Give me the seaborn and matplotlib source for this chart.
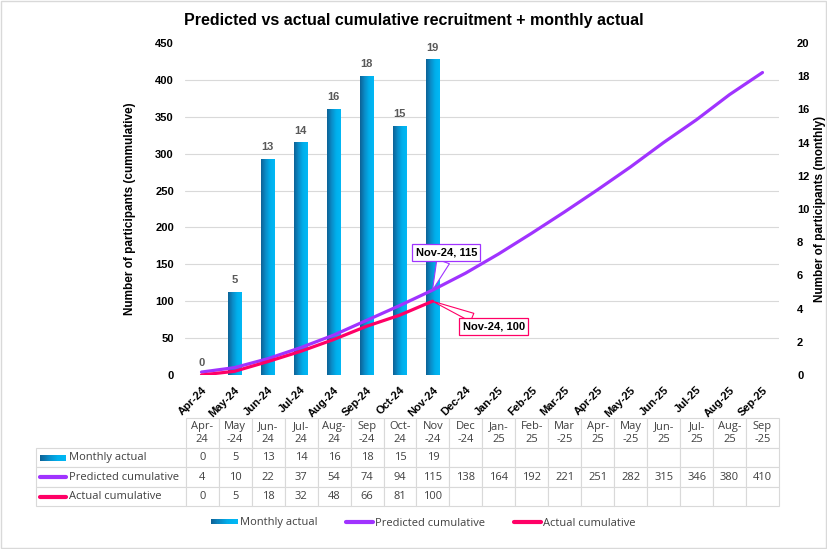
import numpy as np
import pandas as pd
import matplotlib
matplotlib.use('Agg')
import matplotlib.pyplot as plt
import seaborn as sns
from matplotlib.colors import LinearSegmentedColormap
from matplotlib.patches import Rectangle
from matplotlib.lines import Line2D
from matplotlib.legend_handler import HandlerBase
from matplotlib.table import Table
from matplotlib.ticker import FixedLocator

# values
months = ['Apr-24', 'May-24', 'Jun-24', 'Jul-24', 'Aug-24', 'Sep-24', 'Oct-24', 'Nov-24',
          'Dec-24', 'Jan-25', 'Feb-25', 'Mar-25', 'Apr-25', 'May-25', 'Jun-25', 'Jul-25',
          'Aug-25', 'Sep-25']
table_heads = ['Apr-\n24', 'May\n-24', 'Jun-\n24', 'Jul-\n24', 'Aug-\n24', 'Sep\n-24',
               'Oct-\n24', 'Nov\n-24', 'Dec\n-24', 'Jan-\n25', 'Feb-\n25', 'Mar\n-25',
               'Apr-\n25', 'May\n-25', 'Jun-\n25', 'Jul-\n25', 'Aug-\n25', 'Sep\n-25']
monthly_actual = [0, 5, 13, 14, 16, 18, 15, 19]
predicted_cum = [4, 10, 22, 37, 54, 74, 94, 115, 138, 164, 192, 221, 251, 282, 315, 346, 380, 410]
actual_cum = [0, 5, 18, 32, 48, 66, 81, 100]
row_names = ['Monthly actual', 'Predicted cumulative', 'Actual cumulative']
cum_ticks = list(range(0, 451, 50))
monthly_ticks = list(range(0, 21, 2))

PURPLE = '#A033FF'
PINK = '#FF0066'
GRID = '#D9D9D9'
TXT = '#404040'
bar_cmap = LinearSegmentedColormap.from_list('bars', ['#0D6296', '#0A8CC8', '#00AFEC', '#00B8F5'])

sns.set_style('white')
plt.rcParams['font.family'] = ['Liberation Sans', 'DejaVu Sans']
plt.rcParams['text.color'] = 'black'
plt.rcParams['axes.labelcolor'] = 'black'
plt.rcParams['xtick.color'] = 'black'
plt.rcParams['ytick.color'] = 'black'
TABLE_FONT = ['Open Sans', 'DejaVu Sans']

W, H = 828, 549
def fx(px):
    return px / W
def fy(py):
    return 1 - py / H

fig = plt.figure(figsize=(W / 100, H / 100), dpi=100)
ax_bar = fig.add_axes([fx(185), fy(375), 594 / W, 332 / H])
ax_line = ax_bar.twinx()

# monthly bars (right axis)
pos = np.arange(len(months))
bars = pd.DataFrame({'pos': pos[:len(monthly_actual)], 'value': monthly_actual})
sns.barplot(data=bars, x='pos', y='value', native_scale=True, width=0.42,
            color='#00B0F0', edgecolor='none', ax=ax_bar)
grad = np.linspace(0, 1, 64).reshape(1, -1)
for p in ax_bar.patches:
    h = p.get_height()
    if not np.isfinite(h) or h <= 0:
        continue
    x0, w = p.get_x(), p.get_width()
    ax_bar.imshow(grad, extent=[x0, x0 + w, 0, h], aspect='auto', cmap=bar_cmap,
                  zorder=2, interpolation='bilinear')
    p.set_facecolor('none')
ax_bar.bar_label(ax_bar.containers[0], fmt='%d', padding=5, fontsize=8,
                 fontweight='bold', color='#595959')

# cumulative lines (left axis)
sns.lineplot(x=pos, y=predicted_cum, color=PURPLE, linewidth=2.3, ax=ax_line)
sns.lineplot(x=pos[:len(actual_cum)], y=actual_cum, color=PINK, linewidth=2.3, ax=ax_line)

ax_bar.set_xlim(-0.5, len(months) - 0.5)
ax_bar.set_ylim(0, 20)
ax_line.set_ylim(0, 450)

ax_bar.yaxis.tick_right()
ax_bar.yaxis.set_label_position('right')
ax_line.yaxis.tick_left()
ax_line.yaxis.set_label_position('left')

ax_bar.set_yticks(monthly_ticks)
ax_line.set_yticks(cum_ticks)
ax_bar.set_xticks(pos)
ax_bar.set_xticklabels(months, rotation=45, ha='right', rotation_mode='anchor',
                       fontweight='bold', fontsize=8)
for lab in ax_bar.get_yticklabels() + ax_line.get_yticklabels():
    lab.set_fontweight('bold')
ax_bar.tick_params(axis='y', which='both', length=0, pad=13, labelsize=8)
ax_bar.tick_params(axis='x', length=0, pad=7)
ax_line.tick_params(axis='y', length=0, pad=8, labelsize=8)

# gridlines follow the cumulative scale, drawn under the bars
ax_bar.yaxis.set_minor_locator(FixedLocator(np.array(cum_ticks) * 20 / 450))
ax_bar.grid(False)
ax_bar.grid(which='minor', axis='y', color=GRID, linewidth=0.8)
ax_bar.set_axisbelow(True)
ax_line.grid(False)

for a in (ax_bar, ax_line):
    for s in a.spines.values():
        s.set_visible(False)

ax_bar.set_xlabel('')
ax_line.set_xlabel('')
ax_line.set_ylabel('Number of participants (cummulative)', fontsize=8.5,
                   fontweight='bold', labelpad=14)
ax_bar.set_ylabel('Number of participants (monthly)', fontsize=8.5,
                  fontweight='bold', labelpad=3)

# callouts on the last actual month
last = len(actual_cum) - 1
ax_line.annotate(f'{months[last]}, {predicted_cum[last]}', xy=(last, predicted_cum[last]),
                 xytext=(10, 27), textcoords='offset points', ha='center', va='center',
                 fontsize=8, fontweight='bold',
                 bbox=dict(boxstyle='square,pad=0.3', fc='white', ec=PURPLE, lw=0.9),
                 arrowprops=dict(arrowstyle='wedge,tail_width=1.2', fc='white', ec=PURPLE,
                                 lw=0.8, shrinkA=0, shrinkB=0))
ax_line.annotate(f'{months[last]}, {actual_cum[last]}', xy=(last, actual_cum[last]),
                 xytext=(44, -18), textcoords='offset points', ha='center', va='center',
                 fontsize=8, fontweight='bold',
                 bbox=dict(boxstyle='square,pad=0.3', fc='white', ec=PINK, lw=0.9),
                 arrowprops=dict(arrowstyle='wedge,tail_width=0.8', fc='white', ec=PINK,
                                 lw=0.8, shrinkA=0, shrinkB=0))

# data table under the chart
tbl = Table(ax_line, bbox=[(36 - 185) / 594, (375 - 506) / 332, 743 / 594, 88 / 332])
corner = tbl.add_cell(0, 0, width=150, height=30, text='', edgecolor=GRID)
corner.visible_edges = 'open'
for j, head in enumerate(table_heads):
    tbl.add_cell(0, j + 1, width=33, height=30, text=head, loc='center', edgecolor=GRID)
for i, (name, vals) in enumerate(zip(row_names, [monthly_actual, predicted_cum, actual_cum])):
    c = tbl.add_cell(i + 1, 0, width=150, height=19.3, text=name, loc='left', edgecolor=GRID)
    c.PAD = 0.22
    for j in range(len(months)):
        txt = str(vals[j]) if j < len(vals) else ''
        tbl.add_cell(i + 1, j + 1, width=33, height=19.3, text=txt, loc='center', edgecolor=GRID)
tbl.auto_set_font_size(False)
tbl.set_fontsize(8)
for cell in tbl.get_celld().values():
    t = cell.get_text()
    t.set_color(TXT)
    t.set_fontfamily(TABLE_FONT)
    t.set_linespacing(1.3)
    cell.set_linewidth(0.8)
ax_line.add_table(tbl)

# series keys inside the row-label cells
kax = fig.add_axes([fx(40), fy(461), 26 / W, 6 / H])
kax.imshow(grad, aspect='auto', cmap=bar_cmap)
kax.axis('off')
for yy, col in [(477, PURPLE), (496.5, PINK)]:
    fig.add_artist(Line2D([fx(40), fx(66)], [fy(yy), fy(yy)], color=col, lw=3,
                          transform=fig.transFigure))


class GradientKey(HandlerBase):
    def create_artists(self, legend, orig_handle, xdescent, ydescent, width, height,
                       fontsize, trans):
        cols = bar_cmap(np.linspace(0, 1, 24))
        step = width / len(cols)
        out = []
        for k, c in enumerate(cols):
            out.append(Rectangle((-xdescent + k * step, -ydescent + 0.15 * height),
                                 step * 1.05, 0.7 * height, facecolor=c, edgecolor='none',
                                 transform=trans))
        return out


handles = [Rectangle((0, 0), 1, 1), Line2D([], [], color=PURPLE, lw=3),
           Line2D([], [], color=PINK, lw=3)]
fig.legend(handles=handles, labels=row_names, handler_map={Rectangle: GradientKey()},
           loc='center', bbox_to_anchor=(fx(423), fy(523)), ncol=3, frameon=False,
           prop={'family': TABLE_FONT, 'size': 8}, labelcolor=TXT, handlelength=2.4,
           handletextpad=0.2, columnspacing=2.6)

fig.text(fx(414), fy(21), 'Predicted vs actual cumulative recruitment + monthly actual',
         ha='center', va='center', fontsize=11.5, fontweight='bold', color='black')

fig.add_artist(Rectangle((0.001, 0.002), 0.997, 0.996, transform=fig.transFigure,
                         fill=False, edgecolor=GRID, linewidth=1))

fig.savefig('out.png', dpi=100)
